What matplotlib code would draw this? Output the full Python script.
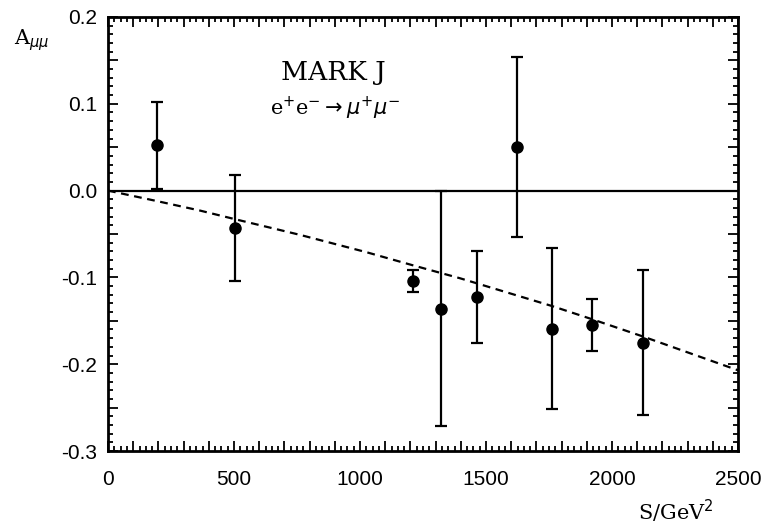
import numpy as np
import matplotlib
matplotlib.use('Agg')
import matplotlib.pyplot as plt
from matplotlib.ticker import MultipleLocator, FuncFormatter

# measured points: s (GeV^2), asymmetry, error
s_vals = [194, 505, 1209, 1323, 1463, 1624, 1762, 1919, 2122]
a_vals = [0.052, -0.043, -0.104, -0.136, -0.123, 0.050, -0.159, -0.155, -0.175]
a_err = [0.050, 0.061, 0.0125, 0.135, 0.053, 0.104, 0.093, 0.030, 0.083]

# dashed prediction curve
curve_s = [0, 193, 365, 505, 762, 1026, 1209, 1397, 1762, 1919, 2122, 2500]
curve_a = [0.0, -0.012, -0.023, -0.033, -0.051, -0.071, -0.086, -0.101, -0.133, -0.148, -0.168, -0.207]

plt.rcParams['axes.unicode_minus'] = False
plt.rcParams['font.family'] = ['Liberation Sans', 'DejaVu Sans']

fig = plt.figure(figsize=(7.66, 5.24), dpi=100)
ax = fig.add_axes([108 / 766, 1 - 451 / 524, 630 / 766, 434 / 524])

ax.axhline(0, color='black', lw=1.6, zorder=1)
ax.plot(curve_s, curve_a, color='black', lw=1.6, ls=(0, (3.5, 2.5)), zorder=1)
ax.errorbar(s_vals, a_vals, yerr=a_err, fmt='o', color='black', ms=8,
            elinewidth=1.6, capsize=4.5, capthick=1.6, zorder=3)

ax.set_xlim(0, 2500)
ax.set_ylim(-0.3, 0.2)

ax.xaxis.set_major_locator(MultipleLocator(100))
ax.xaxis.set_minor_locator(MultipleLocator(25))
ax.yaxis.set_major_locator(MultipleLocator(0.05))
ax.yaxis.set_minor_locator(MultipleLocator(0.01))


def xfmt(v, pos):
    if abs(v / 500 - round(v / 500)) < 1e-6:
        return '%d' % round(v)
    return ''


def yfmt(v, pos):
    if abs(v / 0.1 - round(v / 0.1)) < 1e-6:
        return '%.1f' % (round(v / 0.1) / 10 + 0.0)
    return ''


ax.xaxis.set_major_formatter(FuncFormatter(xfmt))
ax.yaxis.set_major_formatter(FuncFormatter(yfmt))
ax.tick_params(which='both', direction='in', top=True, right=True, width=1.3)
ax.tick_params(which='major', length=7, labelsize=15, pad=8)
ax.tick_params(axis='x', which='major', pad=14)
ax.tick_params(which='minor', length=3.5)
for sp in ax.spines.values():
    sp.set_linewidth(2)

ax.text(0.357, 0.873, 'MARK J', transform=ax.transAxes, ha='center', va='center',
        fontsize=19, family='DejaVu Serif')
ax.text(0.36, 0.79, r'e$^{+}$e$^{-}$$\rightarrow$$\mu^{+}\mu^{-}$', transform=ax.transAxes,
        ha='center', va='center', fontsize=15, family='DejaVu Serif')

fig.text(14 / 766, 1 - 40 / 524, r'A$_{\mu\mu}$', fontsize=15, va='center', family='DejaVu Serif')
fig.text(714 / 766, 1 - 511 / 524, r'S/GeV$^{2}$', fontsize=15, ha='right', va='center',
         family='DejaVu Serif')

fig.savefig('out.png', dpi=100)
